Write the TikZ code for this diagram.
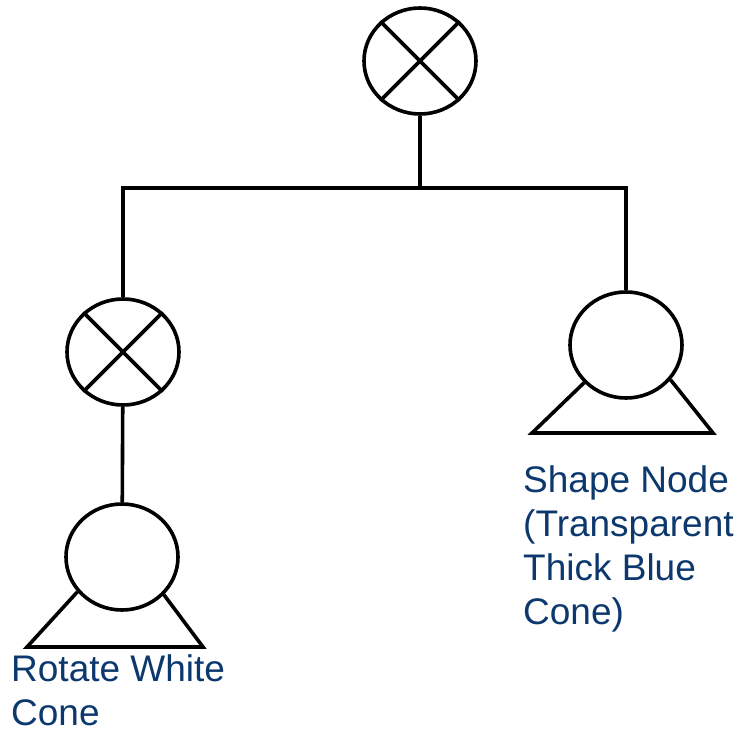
\documentclass[tikz,border=0pt]{standalone}
\usepackage{fontspec}
\usetikzlibrary{shapes.geometric}
\setmainfont{Liberation Sans}
\definecolor{labelblue}{RGB}{12,56,110}
\begin{document}
\begin{tikzpicture}[x=1pt,y=-1pt,
  ln/.style={line width=3.6pt,black},
  ball/.style={ellipse,draw,line width=3.6pt,minimum width=112pt,minimum height=106pt,inner sep=0pt},
  lbl/.style={text=labelblue,font=\fontsize{37}{44}\selectfont,align=left,inner sep=0pt,anchor=base west}]
\useasboundingbox (0,0) rectangle (740,733);
\fill[white] (0,0) rectangle (740,733);
% nodes
\node[ball] (t) at (420,61) {};
\node[ball] (l1) at (123,352) {};
\node[ball] (l2) at (122,557) {};
\node[ball] (r1) at (626,345) {};
\coordinate (j) at (420,188);
% crosses
\foreach \n in {t,l1}{
  \draw[ln] (\n.45) -- (\n.225);
  \draw[ln] (\n.135) -- (\n.315);
}
% connectors
\draw[ln] (t) -- (j);
\draw[ln] (l1.north) -- (l1.north |- j) -- (r1.north |- j) -- (r1.north);
\draw[ln] (l1) -- (l2);
% cones
\coordinate (lbl-a) at (27,647);
\coordinate (lbr-a) at (203,647);
\draw[ln,line join=miter] (l2.218) -- (lbl-a) -- (lbr-a) -- (l2.318);
\coordinate (rbl-a) at (532,433);
\coordinate (rbr-a) at (713,433);
\draw[ln,line join=miter] (r1.222) -- (rbl-a) -- (rbr-a) -- (r1.322);
% labels (base anchor = last line)
\node[lbl] (ll) at (11,725) {Rotate White\\Cone};
\node[lbl] (rl) at (523,624) {Shape Node\\(Transparent\\Thick Blue\\Cone)};
\end{tikzpicture}
\end{document}
